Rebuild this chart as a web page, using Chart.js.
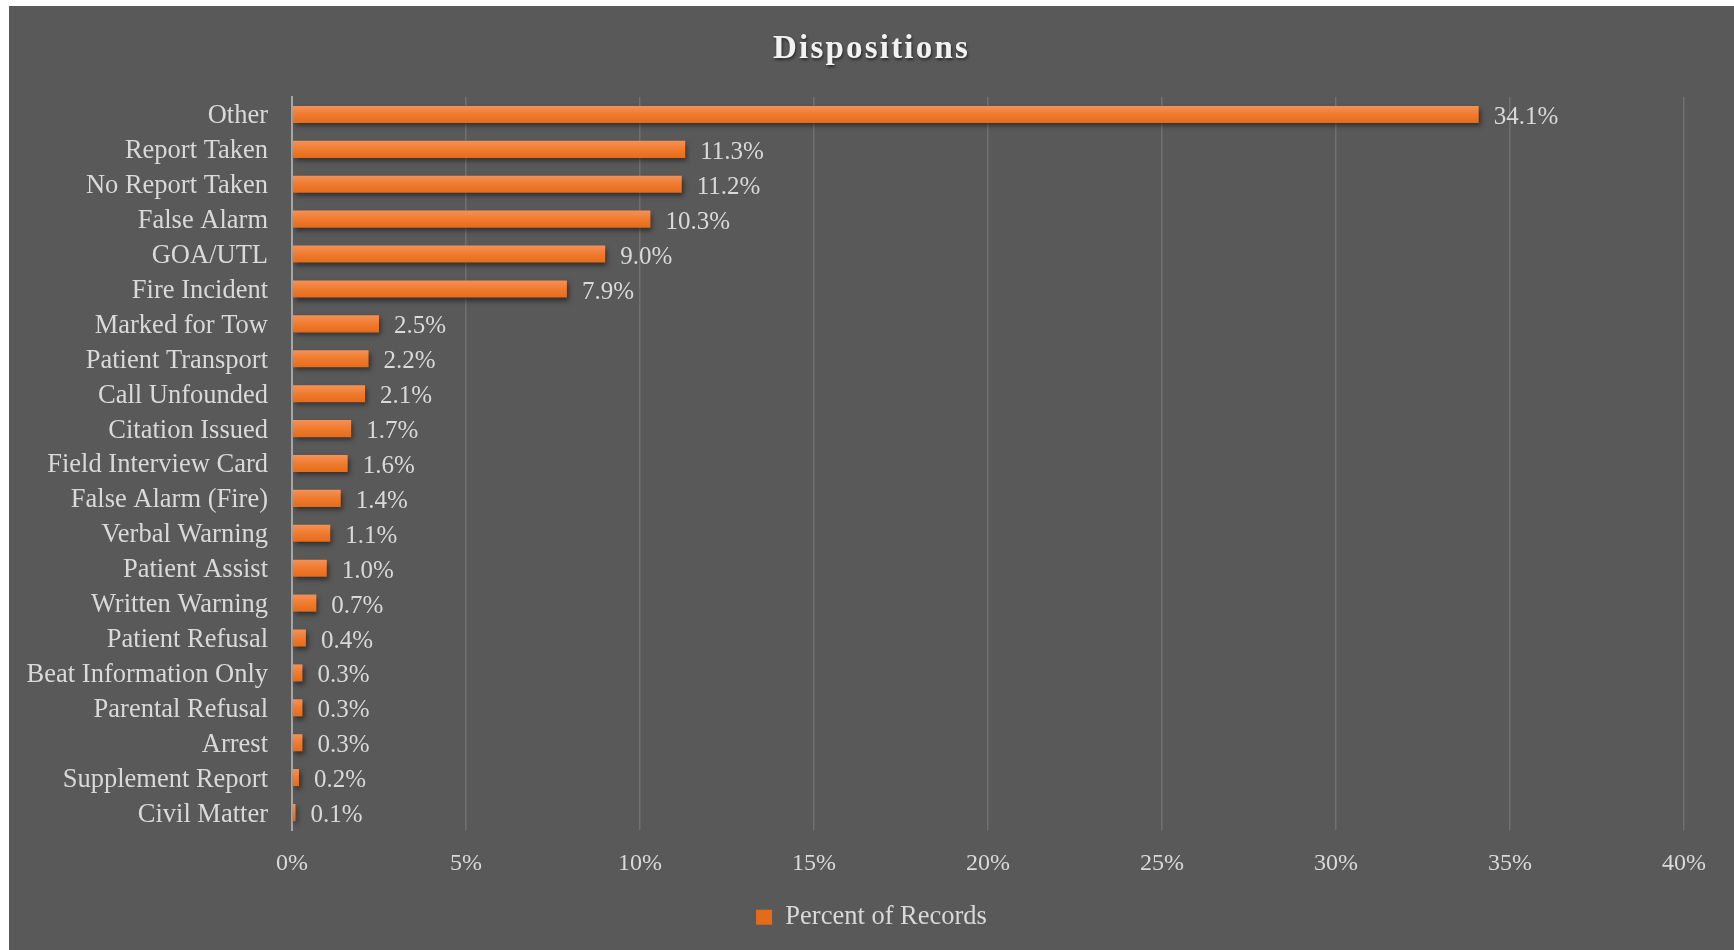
<!DOCTYPE html>
<html>
<head>
<meta charset="utf-8">
<title>Dispositions</title>
<script src="https://cdn.jsdelivr.net/npm/chart.js@4.4.1/dist/chart.umd.min.js"></script>
<style>
  html, body { margin: 0; padding: 0; background: #fff; overflow: hidden; }
  #wrap { position: absolute; left: 9px; top: 6px; width: 1725px; height: 944px; background: #595959; }
</style>
</head>
<body>
<div id="wrap"><canvas id="dispChart"></canvas></div>
<script>
const categories = [
  "Other", "Report Taken", "No Report Taken", "False Alarm", "GOA/UTL",
  "Fire Incident", "Marked for Tow", "Patient Transport", "Call Unfounded",
  "Citation Issued", "Field Interview Card", "False Alarm (Fire)", "Verbal Warning",
  "Patient Assist", "Written Warning", "Patient Refusal", "Beat Information Only",
  "Parental Refusal", "Arrest", "Supplement Report", "Civil Matter"
];
const percentOfRecords = [
  34.1, 11.3, 11.2, 10.3, 9.0, 7.9, 2.5, 2.2, 2.1, 1.7, 1.6,
  1.4, 1.1, 1.0, 0.7, 0.4, 0.3, 0.3, 0.3, 0.2, 0.1
];
const seriesName = "Percent of Records";
const xMax = 40;
const xStep = 5;

const serif = "'Times New Roman', 'Liberation Serif', serif";
const textColor = "#d9d9d9";

function barFill(c) {
  const chart = c.chart;
  const y = chart.scales && chart.scales.y;
  if (c.type !== "data" || !y) return "#ef7d32";
  const yc = y.getPixelForValue(c.dataIndex);
  if (!isFinite(yc)) return "#ef7d32";
  const g = chart.ctx.createLinearGradient(0, yc - 9, 0, yc + 9);
  g.addColorStop(0, "#f4925a");
  g.addColorStop(0.5, "#f07b2e");
  g.addColorStop(1, "#e46b1a");
  return g;
}

// shadow under the bars + value labels at the bar ends
const barExtras = {
  id: "barExtras",
  beforeInit(chart) {
    // title in the reference is letter-spaced and has a soft shadow
    const t = chart.titleBlock;
    if (!t) return;
    const draw = t.draw.bind(t);
    t.draw = function () {
      const ctx = chart.ctx;
      ctx.save();
      ctx.letterSpacing = "2.2px";
      ctx.shadowColor = "rgba(0,0,0,0.55)";
      ctx.shadowBlur = 3;
      ctx.shadowOffsetX = 1;
      ctx.shadowOffsetY = 2;
      draw();
      ctx.restore();
    };
  },
  beforeDatasetsDraw(chart) {
    const ctx = chart.ctx;
    ctx.save();
    ctx.shadowColor = "rgba(0,0,0,0.5)";
    ctx.shadowBlur = 5;
    ctx.shadowOffsetX = 2;
    ctx.shadowOffsetY = 3;
  },
  afterDatasetsDraw(chart) {
    const ctx = chart.ctx;
    ctx.restore();
    const meta = chart.getDatasetMeta(0);
    ctx.save();
    ctx.font = "25px " + serif;
    ctx.fillStyle = textColor;
    ctx.textAlign = "left";
    ctx.textBaseline = "middle";
    meta.data.forEach((bar, i) => {
      ctx.fillText(percentOfRecords[i].toFixed(1) + "%", bar.x + 15, bar.y + 3);
    });
    ctx.restore();
  }
};

const ctx = document.getElementById("dispChart").getContext("2d");
new Chart(ctx, {
  type: "bar",
  data: {
    labels: categories,
    datasets: [{
      label: seriesName,
      data: percentOfRecords,
      backgroundColor: barFill,
      borderWidth: 0,
      barPercentage: 0.49,
      categoryPercentage: 1
    }]
  },
  options: {
    indexAxis: "y",
    responsive: true,
    maintainAspectRatio: false,
    animation: false,
    layout: { padding: { left: 17, right: 17, top: 0, bottom: 9.5 } },
    scales: {
      x: {
        min: 0,
        max: xMax,
        ticks: {
          stepSize: xStep,
          color: textColor,
          font: { family: serif, size: 24 },
          padding: 19,
          callback: (v) => v + "%"
        },
        grid: { color: "#707070", lineWidth: 1.5, drawTicks: false },
        border: { display: false },
        afterFit(scale) { scale.height = 64; }
      },
      y: {
        ticks: {
          color: textColor,
          font: { family: serif, size: 26.5 },
          padding: 24,
          labelOffset: 2
        },
        grid: { display: false, drawTicks: false },
        border: { display: true, color: "#a6a6a6", width: 2 },
        afterFit(scale) { scale.width = 266; }
      },
      // empty right-hand axis, only keeps the plot clear of the right edge
      rightGap: {
        type: "linear",
        position: "right",
        ticks: { display: false },
        grid: { display: false, drawTicks: false },
        border: { display: false },
        afterFit(scale) { scale.width = 33; }
      }
    },
    plugins: {
      title: {
        display: true,
        text: "Dispositions",
        color: "#f2f2f2",
        font: { family: serif, size: 33, weight: "bold" },
        padding: { top: 24, bottom: 27.4 }
      },
      legend: {
        position: "bottom",
        labels: {
          color: textColor,
          font: { family: serif, size: 26.5 },
          boxWidth: 16,
          boxHeight: 15,
          padding: 10
        }
      },
      tooltip: { enabled: false }
    }
  },
  plugins: [barExtras]
});
</script>
</body>
</html>
